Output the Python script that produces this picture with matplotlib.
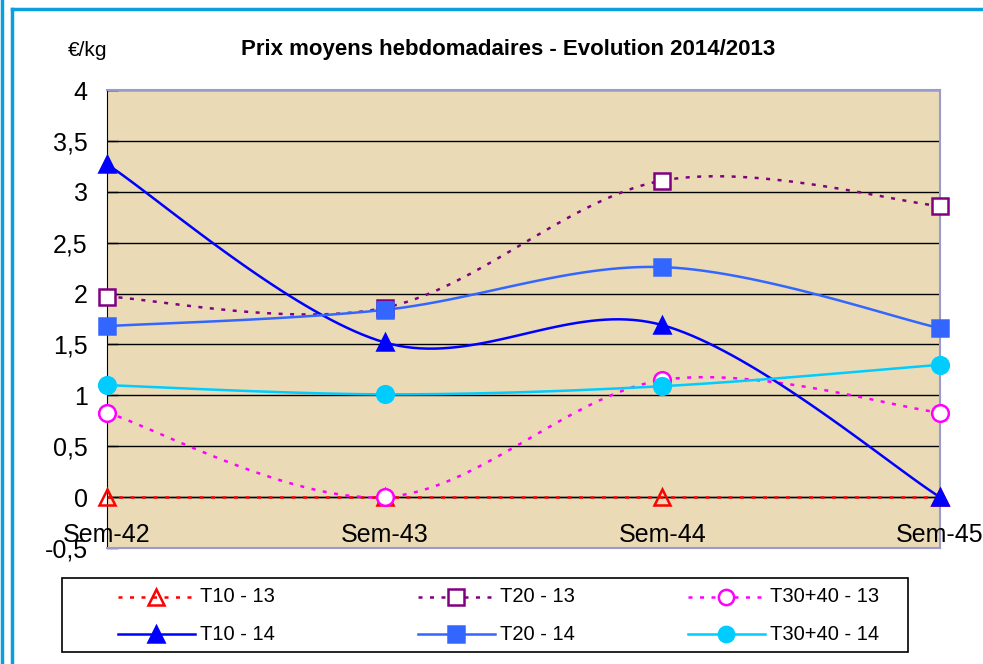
import numpy as np
import matplotlib
matplotlib.use("Agg")
import matplotlib.pyplot as plt
from matplotlib.lines import Line2D
from matplotlib.patches import Rectangle

plt.rcParams['font.family'] = ['Liberation Sans', 'DejaVu Sans']

# Données
semaines = ['Sem-42', 'Sem-43', 'Sem-44', 'Sem-45']
t10_13 = [0, 0, 0, 0]
t20_13 = [1.97, 1.86, 3.11, 2.86]
t30_13 = [0.83, 0, 1.15, 0.83]
t10_14 = [3.27, 1.52, 1.69, 0]
t20_14 = [1.68, 1.84, 2.26, 1.66]
t30_14 = [1.10, 1.01, 1.09, 1.30]

W, H = 983, 664

# Courbe lissée façon Excel (Bezier, Catmull-Rom)
def smooth(xs, ys, n=40):
    pts = np.column_stack([xs, ys]).astype(float)
    ext = np.vstack([pts[0], pts, pts[-1]])
    out = []
    t = np.linspace(0, 1, n)[:, None]
    for i in range(len(pts) - 1):
        p0, p1, p2, p3 = ext[i], ext[i + 1], ext[i + 2], ext[i + 3]
        c1 = p1 + (p2 - p0) / 6
        c2 = p2 - (p3 - p1) / 6
        seg = ((1 - t) ** 3) * p1 + 3 * ((1 - t) ** 2) * t * c1 + 3 * (1 - t) * t ** 2 * c2 + t ** 3 * p2
        out.append(seg if i == 0 else seg[1:])
    seg = np.vstack(out)
    return seg[:, 0], seg[:, 1]

fig = plt.figure(figsize=(W / 100, H / 100), dpi=100)
ax = fig.add_axes([107 / W, 1 - 548 / H, 833 / W, 458 / H])
ax.set_facecolor('#EADBB6')

x = np.arange(len(semaines))
dots = (1.6, 3.0)
series = [
    (t10_13, '#FF0000', '^', 'none', dots, 'T10 - 13'),
    (t20_13, '#800080', 's', 'white', dots, 'T20 - 13'),
    (t30_13, '#FF00FF', 'o', 'white', dots, 'T30+40 - 13'),
    (t10_14, '#0000FF', '^', '#0000FF', None, 'T10 - 14'),
    (t20_14, '#3366FF', 's', '#3366FF', None, 'T20 - 14'),
    (t30_14, '#00CCFF', 'o', '#00CCFF', None, 'T30+40 - 14'),
]
for ys, col, mk, fc, dash, lab in series:
    sx, sy = smooth(x, ys)
    ln, = ax.plot(sx, sy, color=col, lw=1.8, zorder=3, clip_on=False)
    if dash:
        ln.set_dashes(dash)
    ax.plot(x, ys, ls='none', marker=mk, ms=12,
            mfc=fc, mec=col, mew=1.8, zorder=4, clip_on=False)

ax.set_xlim(0, 3)
ax.set_ylim(-0.5, 4)
yt = np.arange(-0.5, 4.01, 0.5)
ax.set_yticks(yt)
ax.set_yticklabels([('%g' % v).replace('.', ',') for v in yt], fontsize=18)
ax.tick_params(axis='y', direction='in', length=8, width=1, pad=14, color='black')
ax.set_xticks([])
ax.grid(axis='y', color='black', lw=1)
ax.axhline(0, color='black', lw=1, zorder=2)
for s in ['top', 'right', 'bottom']:
    ax.spines[s].set_color('#9A9ACF')
    ax.spines[s].set_linewidth(1.5)
ax.spines['left'].set_color('black')

for i, s in enumerate(semaines):
    ax.text(i, -0.37, s, ha='center', va='center', fontsize=18, zorder=5)

fig.text(508 / W, 1 - 50 / H, 'Prix moyens hebdomadaires - Evolution 2014/2013',
         ha='center', va='center', fontsize=16, fontweight='bold')
fig.text(68 / W, 1 - 50 / H, '€/kg', ha='left', va='center', fontsize=15)

# légende dessinée à la main (disposition Excel)
fig.add_artist(Rectangle((62 / W, 1 - 652 / H), 846 / W, 74 / H, transform=fig.transFigure,
                         facecolor='white', edgecolor='black', lw=1.2))
col_x = [118, 418, 688]
row_y = [597, 634]
for k, (ys, col, mk, fc, dash, lab) in enumerate(series):
    x0 = col_x[k % 3]
    y0 = 1 - row_y[k // 3] / H
    h = Line2D([x0 / W, (x0 + 77) / W], [y0, y0], color=col, lw=1.8)
    if dash:
        h.set_dashes(dash)
    fig.add_artist(h)
    fig.add_artist(Line2D([(x0 + 38) / W], [y0], ls='none', marker=mk, ms=11,
                          mfc=fc, mec=col, mew=1.8))
    fig.text((x0 + 82) / W, y0, lab, ha='left', va='center', fontsize=14.5)

# cadre bleu
fig.add_artist(Line2D([2 / W, 2 / W], [0, 1], color='#0A9FDE', lw=2.5))
fig.add_artist(Line2D([12 / W, 12 / W], [0, 1 - 9 / H], color='#0A9FDE', lw=2.5))
fig.add_artist(Line2D([12 / W, 1], [1 - 9 / H, 1 - 9 / H], color='#0A9FDE', lw=2.5))

fig.savefig('out.png', dpi=100)
